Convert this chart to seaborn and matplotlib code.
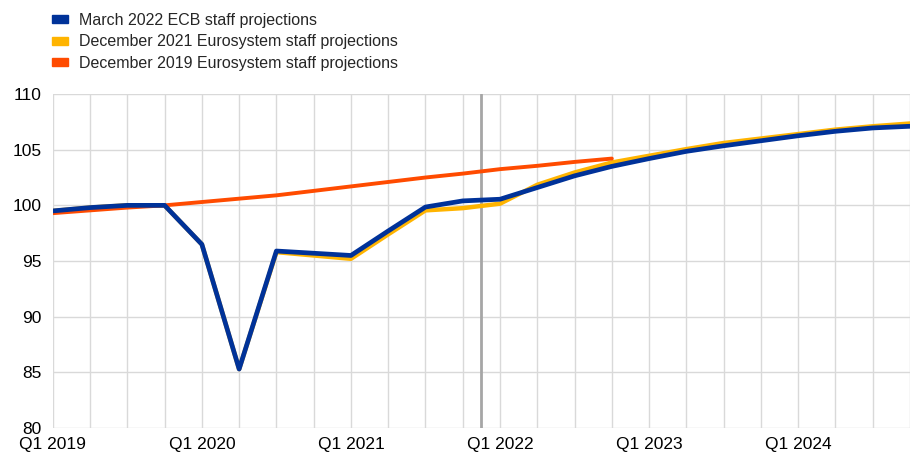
import pandas as pd
import matplotlib
matplotlib.use("Agg")
import matplotlib.pyplot as plt
from matplotlib.patches import Patch
import seaborn as sns

quarters = [f"Q{q} {y}" for y in range(2019, 2025) for q in range(1, 5)]

march_2022 = [99.5, 99.8, 100.0, 100.0, 96.5, 85.3, 95.9, 95.7, 95.5, 97.7, 99.85, 100.4,
              100.55, 101.6, 102.65, 103.5, 104.2, 104.85, 105.35, 105.8, 106.25, 106.65, 106.95, 107.1]
dec_2021 = [99.5, 99.8, 100.0, 100.0, 96.5, 85.3, 95.8, 95.5, 95.2, 97.4, 99.55, 99.75,
            100.15, 101.85, 102.95, 103.85, 104.45, 105.05, 105.6, 106.0, 106.4, 106.8, 107.1, 107.35]
dec_2019 = [99.3, 99.55, 99.8, 100.0, 100.3, 100.6, 100.9, 101.3, 101.7, 102.1, 102.5, 102.85,
            103.25, 103.55, 103.9, 104.2]

labels = ["March 2022 ECB staff projections",
          "December 2021 Eurosystem staff projections",
          "December 2019 Eurosystem staff projections"]
colors = ["#003299", "#FFB400", "#FF4B00"]
cutoff = 11.5  # vertical line between Q4 2021 and Q1 2022

df_m = pd.DataFrame({"x": range(len(march_2022)), "value": march_2022})
df_d21 = pd.DataFrame({"x": range(len(dec_2021)), "value": dec_2021})
df_d19 = pd.DataFrame({"x": range(len(dec_2019)), "value": dec_2019})

sns.set_style("white")
plt.rcParams["font.family"] = ["Liberation Sans", "DejaVu Sans"]

fig = plt.figure(figsize=(9.1, 4.54), dpi=100)
ax = fig.add_axes([0.058, 0.057, 0.942, 0.736])

ax.set_xticks(range(len(quarters)), minor=True)
ax.set_xticks(range(0, len(quarters), 4))
ax.set_xticklabels(quarters[::4])
ax.set_yticks(range(80, 111, 5))
ax.grid(True, which="both", axis="x", color="#d9d9d9", linewidth=1)
ax.grid(True, which="major", axis="y", color="#d9d9d9", linewidth=1)
ax.set_axisbelow(True)

ax.axvline(cutoff, color="#a6a6a6", linewidth=2, zorder=1.5)

sns.lineplot(data=df_d21, x="x", y="value", color=colors[1], linewidth=3.2, ax=ax, zorder=2)
sns.lineplot(data=df_d19, x="x", y="value", color=colors[2], linewidth=2.8, ax=ax, zorder=3,
             solid_capstyle="round")
sns.lineplot(data=df_m, x="x", y="value", color=colors[0], linewidth=3.4, ax=ax, zorder=4)

ax.set_xlim(0, len(quarters) - 1)
ax.set_ylim(80, 110)
ax.set_xlabel("")
ax.set_ylabel("")
for s in ax.spines.values():
    s.set_visible(False)
ax.tick_params(axis="both", which="both", length=0, labelsize=12.5, colors="#000000")
ax.tick_params(axis="x", pad=6.5)
ax.tick_params(axis="y", pad=8)

handles = [Patch(color=c, label=l) for c, l in zip(colors, labels)]
fig.legend(handles=handles, loc="upper left", bbox_to_anchor=(0.045, 0.997), frameon=False,
           fontsize=11.5, handlelength=1.0, handleheight=0.4, handletextpad=0.7,
           labelspacing=0.42, borderaxespad=0.3)

fig.savefig("out.png", dpi=100)
